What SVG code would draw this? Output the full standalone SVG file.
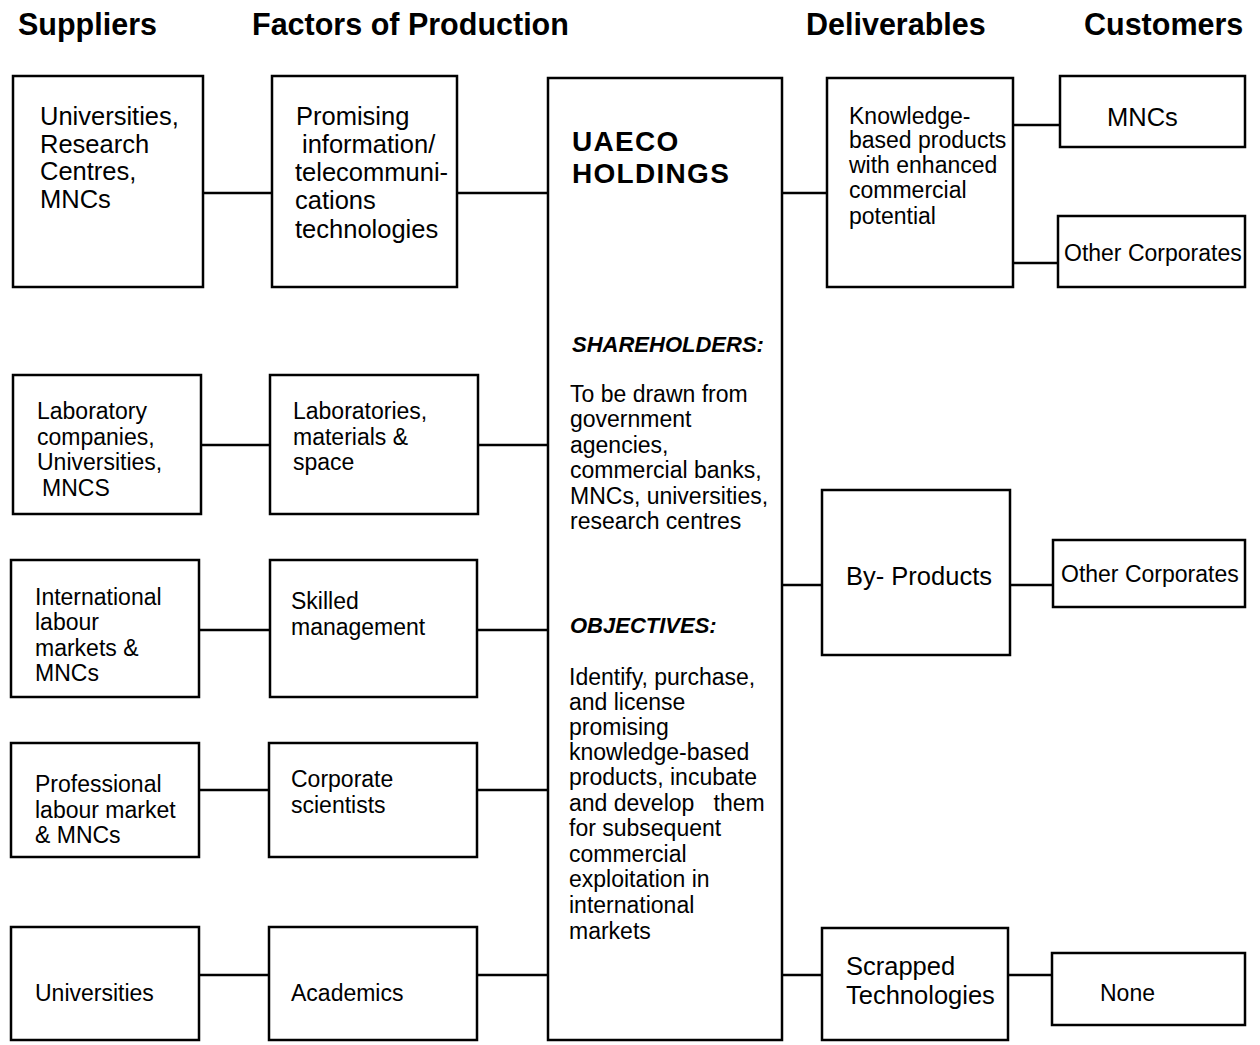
<svg xmlns="http://www.w3.org/2000/svg" width="1260" height="1045" viewBox="0 0 1260 1045">
<style>
.b{fill:#fff;stroke:#000;stroke-width:2.5}
.c line{stroke:#000;stroke-width:2.5}
text{font-family:"Liberation Sans",Arial,sans-serif;fill:#000}
.h{font-size:30.5px;font-weight:bold}
.L{font-size:25.5px}
.s{font-size:23px}
.bi{font-size:22px;font-weight:bold;font-style:italic}
.t{font-size:28px;font-weight:bold;letter-spacing:1.3px}
</style>
<rect width="1260" height="1045" fill="#fff"/>
<g id="headers">
<text class="h" x="18" y="35">Suppliers</text>
<text class="h" x="252" y="35">Factors of Production</text>
<text class="h" x="806" y="35">Deliverables</text>
<text class="h" x="1084" y="35">Customers</text>
</g>
<g class="c" id="connectors">
<line x1="203" y1="193" x2="272" y2="193"/>
<line x1="457" y1="193" x2="548" y2="193"/>
<line x1="201" y1="445" x2="270" y2="445"/>
<line x1="478" y1="445" x2="548" y2="445"/>
<line x1="199" y1="630" x2="270" y2="630"/>
<line x1="477" y1="630" x2="548" y2="630"/>
<line x1="199" y1="790" x2="269" y2="790"/>
<line x1="477" y1="790" x2="548" y2="790"/>
<line x1="199" y1="975" x2="269" y2="975"/>
<line x1="477" y1="975" x2="548" y2="975"/>
<line x1="782" y1="193" x2="827" y2="193"/>
<line x1="1013" y1="125" x2="1060" y2="125"/>
<line x1="1013" y1="263" x2="1058" y2="263"/>
<line x1="782" y1="585" x2="822" y2="585"/>
<line x1="1010" y1="585" x2="1053" y2="585"/>
<line x1="782" y1="975" x2="822" y2="975"/>
<line x1="1008" y1="975" x2="1052" y2="975"/>
</g>
<g id="s1"><rect class="b" x="13" y="76" width="190" height="211"/>
<text class="L" x="40"><tspan x="40" y="125">Universities,</tspan><tspan x="40" y="153">Research</tspan><tspan x="40" y="180">Centres,</tspan><tspan x="40" y="208">MNCs</tspan></text></g>
<g id="f1"><rect class="b" x="272" y="76" width="185" height="211"/>
<text class="L"><tspan x="296" y="125">Promising</tspan><tspan x="302" y="153">information/</tspan><tspan x="295" y="181">telecommuni-</tspan><tspan x="295" y="209">cations</tspan><tspan x="295" y="238">technologies</tspan></text></g>
<g id="s2"><rect class="b" x="13" y="375" width="188" height="139"/>
<text class="s"><tspan x="37" y="419">Laboratory</tspan><tspan x="37" y="445">companies,</tspan><tspan x="37" y="470">Universities,</tspan><tspan x="42" y="496">MNCS</tspan></text></g>
<g id="f2"><rect class="b" x="270" y="375" width="208" height="139"/>
<text class="s"><tspan x="293" y="419">Laboratories,</tspan><tspan x="293" y="445">materials &amp;</tspan><tspan x="293" y="470">space</tspan></text></g>
<g id="s3"><rect class="b" x="11" y="560" width="188" height="137"/>
<text class="s"><tspan x="35" y="605">International</tspan><tspan x="35" y="630">labour</tspan><tspan x="35" y="656">markets &amp;</tspan><tspan x="35" y="681">MNCs</tspan></text></g>
<g id="f3"><rect class="b" x="270" y="560" width="207" height="137"/>
<text class="s"><tspan x="291" y="609">Skilled</tspan><tspan x="291" y="635">management</tspan></text></g>
<g id="s4"><rect class="b" x="11" y="743" width="188" height="114"/>
<text class="s"><tspan x="35" y="792">Professional</tspan><tspan x="35" y="818">labour market</tspan><tspan x="35" y="843">&amp; MNCs</tspan></text></g>
<g id="f4"><rect class="b" x="269" y="743" width="208" height="114"/>
<text class="s"><tspan x="291" y="787">Corporate</tspan><tspan x="291" y="813">scientists</tspan></text></g>
<g id="s5"><rect class="b" x="11" y="927" width="188" height="113"/>
<text class="s" x="35" y="1001">Universities</text></g>
<g id="f5"><rect class="b" x="269" y="927" width="208" height="113"/>
<text class="s" x="291" y="1001">Academics</text></g>
<g id="center"><rect class="b" x="548" y="78" width="234" height="962"/>
<text class="t" x="572" y="151">UAECO</text>
<text class="t" x="572" y="183">HOLDINGS</text>
<text class="bi" x="572" y="352">SHAREHOLDERS:</text>
<text class="s"><tspan x="570" y="402">To be drawn from</tspan><tspan x="570" y="427">government</tspan><tspan x="570" y="453">agencies,</tspan><tspan x="570" y="478">commercial banks,</tspan><tspan x="570" y="504">MNCs, universities,</tspan><tspan x="570" y="529">research centres</tspan></text>
<text class="bi" x="570" y="633">OBJECTIVES:</text>
<text class="s"><tspan x="569" y="685">Identify, purchase,</tspan><tspan x="569" y="710">and license</tspan><tspan x="569" y="735">promising</tspan><tspan x="569" y="760">knowledge-based</tspan><tspan x="569" y="785">products, incubate</tspan><tspan x="569" y="811" xml:space="preserve">and develop   them</tspan><tspan x="569" y="836">for subsequent</tspan><tspan x="569" y="862">commercial</tspan><tspan x="569" y="887">exploitation in</tspan><tspan x="569" y="913">international</tspan><tspan x="569" y="939">markets</tspan></text></g>
<g id="d1"><rect class="b" x="827" y="78" width="186" height="209"/>
<text class="s"><tspan x="849" y="124">Knowledge-</tspan><tspan x="849" y="148">based products</tspan><tspan x="849" y="173">with enhanced</tspan><tspan x="849" y="198">commercial</tspan><tspan x="849" y="224">potential</tspan></text></g>
<g id="c1"><rect class="b" x="1060" y="76" width="185" height="71"/>
<text class="L" x="1107" y="126">MNCs</text></g>
<g id="c2"><rect class="b" x="1058" y="216" width="187" height="71"/>
<text class="s" x="1064" y="261">Other Corporates</text></g>
<g id="d2"><rect class="b" x="822" y="490" width="188" height="165"/>
<text class="L" x="846" y="585">By- Products</text></g>
<g id="c3"><rect class="b" x="1053" y="540" width="192" height="67"/>
<text class="s" x="1061" y="582">Other Corporates</text></g>
<g id="d3"><rect class="b" x="822" y="928" width="186" height="112"/>
<text class="L"><tspan x="846" y="975">Scrapped</tspan><tspan x="846" y="1004">Technologies</tspan></text></g>
<g id="c4"><rect class="b" x="1052" y="953" width="193" height="72"/>
<text class="s" x="1100" y="1001">None</text></g>
</svg>
